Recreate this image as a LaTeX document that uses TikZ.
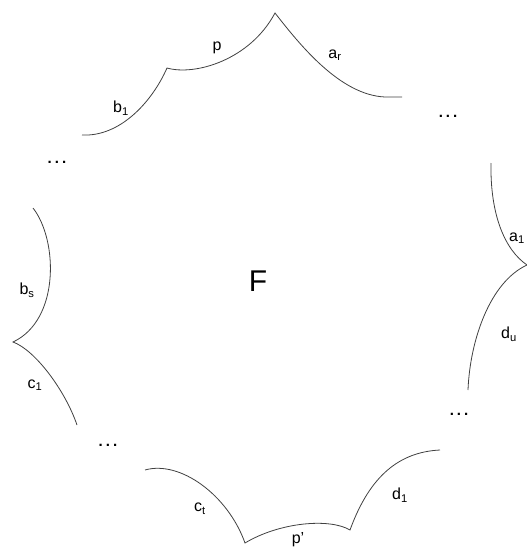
\documentclass[tikz,border=0pt]{standalone}
\usepackage{fontspec}
\setmainfont{Liberation Sans}
\usetikzlibrary{positioning}

\begin{document}
\begin{tikzpicture}[
	x=1pt,y=-1pt,
	side/.style={draw=black!75,line width=0.8pt},
	lbl/.style={inner sep=0pt,font=\fontsize{16}{16}\selectfont},
	gap/.style={inner sep=0pt,font=\fontsize{15}{15}\selectfont\bfseries},
	face/.style={inner sep=0pt,font=\fontsize{30}{30}\selectfont}
	]
	\useasboundingbox (0,0) rectangle (527,549);
	
	% corners and free ends
	\coordinate (b1s) at (82,135);
	\coordinate (q1) at (167,68);
	\coordinate (apex) at (275,13);
	\coordinate (are) at (385,97);
	\coordinate (arf) at (402,97);
	\coordinate (a1s) at (491,163);
	\coordinate (q2) at (527,265);
	\coordinate (due) at (468,390);
	\coordinate (bss) at (33,208);
	\coordinate (q3) at (13,342);
	\coordinate (c1e) at (77,425);
	\coordinate (cts) at (145,470);
	\coordinate (q4) at (245,543);
	\coordinate (q5) at (350,530);
	\coordinate (d1e) at (440,450);
	
	\draw[side] (b1s) .. controls +(38,2) and +(-15,34) .. (q1)
		.. controls +(28,8) and +(-25,47) .. (apex)
		.. controls +(25,32) and +(-45,-2) .. (are) -- (arf);
	\draw[side] (a1s) .. controls +(-1,52) and +(-22,-15) .. (q2)
		.. controls +(-37,17) and +(2,-50) .. (due);
	\draw[side] (bss) .. controls +(25,32) and +(47,-22) .. (q3)
		.. controls +(22,8) and +(-12,-35) .. (c1e);
	\draw[side] (cts) .. controls +(35,-10) and +(-17,-48) .. (q4)
		.. controls +(35,-21) and +(-20,-12) .. (q5)
		.. controls +(20,-55) and +(-40,2) .. (d1e);
	
	\node[lbl] (lb1) at (121,108) {b\textsubscript{1}};
	\node[lbl] (lp) at (217,48) {p};
	\node[lbl] (lar) at (335,55) {a\textsubscript{r}};
	\node[lbl] (la1) at (517,238) {a\textsubscript{1}};
	\node[lbl] (ldu) at (509,334) {d\textsubscript{u}};
	\node[lbl] (lbs) at (27,290) {b\textsubscript{s}};
	\node[lbl] (lc1) at (35,385) {c\textsubscript{1}};
	\node[lbl] (lct) at (200,509) {c\textsubscript{t}};
	\node[lbl] (lpp) at (298,540) {p'};
	\node[lbl] (ld1) at (400,495) {d\textsubscript{1}};
	\node[face] (f) at (258,281) {F};
	
	\node[gap] (g1) at (57,162) {.\hspace{3pt}.\hspace{3pt}.};
	\node[gap] (g2) at (448,116) {.\hspace{3pt}.\hspace{3pt}.};
	\node[gap] (g3) at (459,414) {.\hspace{3pt}.\hspace{3pt}.};
	\node[gap] (g4) at (108,445) {.\hspace{3pt}.\hspace{3pt}.};
\end{tikzpicture}
\end{document}
